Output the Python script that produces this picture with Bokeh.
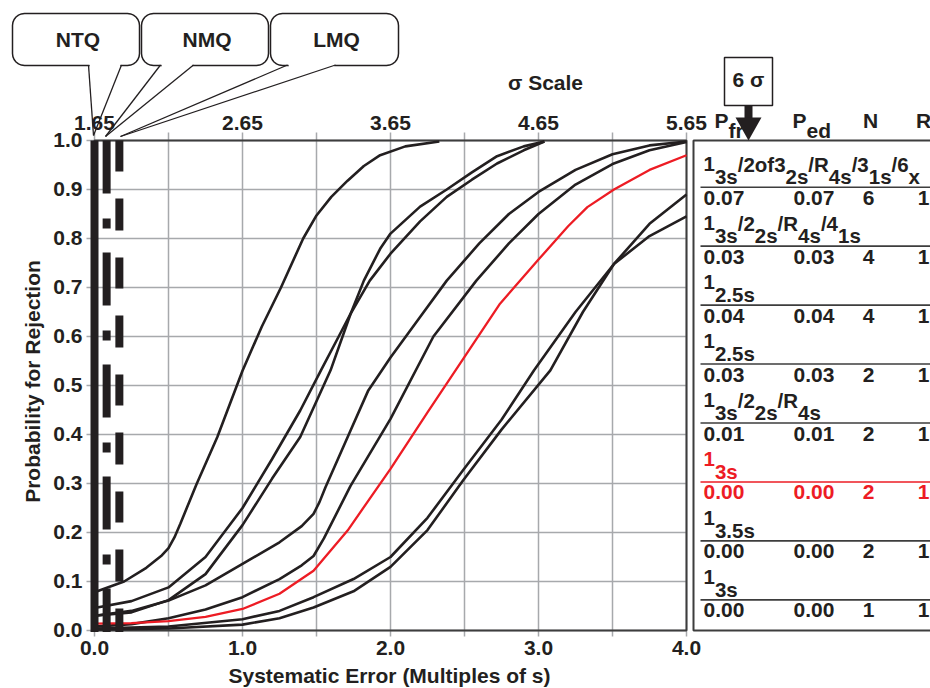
import math
from bokeh.plotting import figure
from bokeh.models import Range1d
from bokeh.core.properties import value
from bokeh.embed import file_html
from bokeh.resources import INLINE

# ---------------- data ----------------
x_ticks_major = [0.0, 1.0, 2.0, 3.0, 4.0]
x_ticks_minor = [0.5, 1.5, 2.5, 3.5]
x_tick_labels = ["0.0", "1.0", "2.0", "3.0", "4.0"]
sigma_scale_labels = ["1.65", "2.65", "3.65", "4.65", "5.65"]
y_ticks = [0.0, 0.1, 0.2, 0.3, 0.4, 0.5, 0.6, 0.7, 0.8, 0.9, 1.0]
y_tick_labels = ["0.0", "0.1", "0.2", "0.3", "0.4", "0.5", "0.6", "0.7", "0.8", "0.9", "1.0"]
x_title = "Systematic Error (Multiples of s)"
y_title = "Probability for Rejection"
top_title = "σ Scale"

# power curves: systematic error (multiples of s) -> probability for rejection
se_multi_n6 = [0.0, 0.2, 0.35, 0.45, 0.5, 0.54, 0.58, 0.69, 0.83, 1.0, 1.13, 1.26, 1.41, 1.5, 1.6, 1.71, 1.82, 1.93, 2.1, 2.33]
p_multi_n6 = [0.078, 0.10, 0.128, 0.152, 0.168, 0.19, 0.218, 0.299, 0.395, 0.53, 0.62, 0.70, 0.80, 0.847, 0.885, 0.918, 0.948, 0.97, 0.988, 0.998]

se_multi_n4 = [0.0, 0.25, 0.5, 0.75, 1.0, 1.2, 1.39, 1.595, 1.73, 1.82, 1.93, 2.0, 2.2, 2.38, 2.55, 2.72, 2.9, 3.04]
p_multi_n4 = [0.03, 0.037, 0.062, 0.115, 0.215, 0.31, 0.395, 0.531, 0.646, 0.714, 0.779, 0.81, 0.865, 0.9, 0.935, 0.968, 0.988, 0.998]

se_25s_n4 = [0.0, 0.25, 0.5, 0.75, 1.0, 1.2, 1.39, 1.53, 1.65, 1.73, 1.86, 2.0, 2.2, 2.38, 2.55, 2.72, 2.9, 3.04]
p_25s_n4 = [0.046, 0.06, 0.088, 0.15, 0.25, 0.35, 0.449, 0.531, 0.60, 0.646, 0.714, 0.769, 0.835, 0.885, 0.92, 0.953, 0.98, 0.998]

se_25s_n2 = [0.0, 0.25, 0.5, 0.75, 1.0, 1.25, 1.4, 1.48, 1.52, 1.56, 1.73, 1.85, 2.0, 2.2, 2.38, 2.6, 2.8, 3.0, 3.25, 3.5, 3.75, 4.0]
p_25s_n2 = [0.03, 0.04, 0.061, 0.092, 0.136, 0.18, 0.213, 0.238, 0.262, 0.292, 0.408, 0.49, 0.557, 0.64, 0.714, 0.79, 0.85, 0.895, 0.94, 0.972, 0.99, 0.998]

se_multi_n2 = [0.0, 0.25, 0.5, 0.75, 1.0, 1.25, 1.4, 1.48, 1.55, 1.73, 2.0, 2.29, 2.58, 2.8, 3.0, 3.25, 3.5, 3.75, 4.0]
p_multi_n2 = [0.008, 0.013, 0.025, 0.043, 0.068, 0.105, 0.133, 0.152, 0.188, 0.295, 0.432, 0.6, 0.714, 0.79, 0.85, 0.91, 0.952, 0.98, 0.997]

se_3s_n2 = [0.0, 0.25, 0.5, 0.75, 1.0, 1.25, 1.48, 1.71, 2.0, 2.25, 2.49, 2.74, 3.0, 3.2, 3.33, 3.51, 3.75, 4.0]
p_3s_n2 = [0.014, 0.015, 0.019, 0.028, 0.044, 0.075, 0.122, 0.204, 0.33, 0.445, 0.554, 0.667, 0.757, 0.825, 0.864, 0.9, 0.94, 0.97]

se_35s_n2 = [0.0, 0.5, 1.0, 1.25, 1.48, 1.75, 2.0, 2.25, 2.49, 2.75, 3.08, 3.3, 3.51, 3.75, 4.0]
p_35s_n2 = [0.002, 0.004, 0.012, 0.025, 0.047, 0.08, 0.13, 0.205, 0.306, 0.41, 0.531, 0.65, 0.748, 0.83, 0.89]

se_3s_n1 = [0.0, 0.5, 1.0, 1.25, 1.48, 1.75, 2.0, 2.25, 2.49, 2.75, 2.97, 3.25, 3.51, 3.75, 4.0]
p_3s_n1 = [0.004, 0.008, 0.023, 0.04, 0.068, 0.105, 0.15, 0.23, 0.327, 0.43, 0.531, 0.65, 0.748, 0.805, 0.845]

# table of QC procedures (braces = subscript)
rule_names = ["1{3s}/2of3{2s}/R{4s}/3{1s}/6{x}", "1{3s}/2{2s}/R{4s}/4{1s}", "1{2.5s}", "1{2.5s}",
              "1{3s}/2{2s}/R{4s}", "1{3s}", "1{3.5s}", "1{3s}"]
p_fr = ["0.07", "0.03", "0.04", "0.03", "0.01", "0.00", "0.00", "0.00"]
p_ed = ["0.07", "0.03", "0.04", "0.03", "0.01", "0.00", "0.00", "0.00"]
n_vals = ["6", "4", "4", "2", "2", "2", "2", "1"]
r_vals = ["1", "1", "1", "1", "1", "1", "1", "1"]
highlight_row = 5

curves = [
    (se_multi_n6, p_multi_n6), (se_multi_n4, p_multi_n4), (se_25s_n4, p_25s_n4),
    (se_25s_n2, p_25s_n2), (se_multi_n2, p_multi_n2), (se_3s_n2, p_3s_n2),
    (se_35s_n2, p_35s_n2), (se_3s_n1, p_3s_n1),
]

# quality requirement bars (NTQ, NMQ, LMQ)
quality_names = ["NTQ", "NMQ", "LMQ"]
quality_bar_se = [0.0, 0.082, 0.168]
sigma_marker = "6 σ"

# ---------------- style / layout ----------------
INK = "#231f20"
RED = "#ed1c24"
GRID = "#a7a9ac"
FRAME = "#3d3d3d"
FONT = "Liberation Sans"
W, H = 930, 688
X0, SX = 94.0, 148.0     # canvas px of x=0, px per unit
Y0, SY = 630.0, 490.0    # canvas px of y=0, px per unit
TS = 8.0                 # compensation of the text baseline offset (px)


def dx(px):
    return (px - X0) / SX


def dy(py):
    return (Y0 - py) / SY


p = figure(width=W, height=H, x_range=Range1d(dx(0), dx(W)), y_range=Range1d(dy(H), dy(0)),
           output_backend="svg", toolbar_location=None,
           x_axis_type=None, y_axis_type=None, min_border=0)
p.min_border_left = p.min_border_right = p.min_border_top = p.min_border_bottom = 0
p.outline_line_color = None
p.background_fill_color = "white"
p.border_fill_color = "white"
p.xgrid.visible = False
p.ygrid.visible = False


def txt(xs, ys, texts, size=21, align="left", baseline="alphabetic", color=INK, angle=0.0):
    p.text(x=xs, y=ys, text=texts, text_font=value(FONT), text_font_size=value(f"{size}px"),
           text_font_style=value("bold"), text_color=color, text_align=value(align),
           text_baseline=value(baseline), angle=angle)


def ptxt(pxs, pys, texts, **kw):
    # texts placed by layout pixels (baseline y), compensated for the renderer's offset
    txt([dx(a) for a in pxs], [dy(b - TS) for b in pys], texts, **kw)


# ---- grid with outward tick extensions ----
x_all = x_ticks_major + x_ticks_minor
p.segment(x0=x_all, y0=[dy(636)] * len(x_all), x1=x_all, y1=[dy(132)] * len(x_all),
          line_color=GRID, line_width=1.5)
p.segment(x0=[dx(86)] * len(y_ticks), y0=y_ticks, x1=[4.0] * len(y_ticks), y1=y_ticks,
          line_color=GRID, line_width=1.5)
# plot frame
p.quad(left=[0.0], right=[4.0], bottom=[0.0], top=[1.0], fill_color=None,
       line_color=FRAME, line_width=2)

# ---- tick labels & titles ----
txt(x_ticks_major, [dy(655 - TS)] * 5, x_tick_labels, align="center")
txt(x_ticks_major, [dy(130 - TS)] * 5, sigma_scale_labels, align="center")
txt([dx(82)] * len(y_ticks), [t - (7.5 - TS) / SY for t in y_ticks], y_tick_labels, align="right")
ptxt([389], [683], [x_title], align="center")
txt([dx(40 - TS)], [dy(381)], [y_title], align="center", angle=math.pi / 2)
ptxt([545], [90], [top_title], align="center")

# ---- curves ----
for i, (xs, ys) in enumerate(curves):
    if i == highlight_row:
        continue
    p.line(xs, ys, line_color=INK, line_width=2.6)
p.line(curves[highlight_row][0], curves[highlight_row][1], line_color=RED, line_width=2.3)

# ---- quality bars ----
half = 4.0 / SX
p.quad(left=[quality_bar_se[0] - half], right=[quality_bar_se[0] + half],
       bottom=[dy(631.5)], top=[1.0], fill_color=INK, line_color=None)
p.segment(x0=[quality_bar_se[1]], y0=[1.0], x1=[quality_bar_se[1]], y1=[dy(631.5)],
          line_color=INK, line_width=8, line_dash="53 25 10 24", line_cap="butt")
p.segment(x0=[quality_bar_se[2]], y0=[1.0], x1=[quality_bar_se[2]], y1=[dy(631.5)],
          line_color=INK, line_width=8, line_dash="31 27 32 27", line_cap="butt")


def patch(pts, fill="white", line=INK, lw=1.5):
    p.patch([dx(a) for a, b in pts], [dy(b) for a, b in pts], fill_color=fill,
            line_color=line, line_width=lw)


def pline(pts, color=INK, lw=1.5):
    p.line([dx(a) for a, b in pts], [dy(b) for a, b in pts], line_color=color, line_width=lw)


def rrect(x0, y0, x1, y1, r, n=6):
    pts = []
    for cx, cy, a0, a1 in [(x1 - r, y0 + r, -90, 0), (x1 - r, y1 - r, 0, 90),
                           (x0 + r, y1 - r, 90, 180), (x0 + r, y0 + r, 180, 270)]:
        for k in range(n + 1):
            a = math.radians(a0 + (a1 - a0) * k / n)
            pts.append((cx + r * math.cos(a), cy + r * math.sin(a)))
    return pts


# ---- callouts ----
boxes = [(12, 139), (141, 268), (270, 398)]
tails = [((88, 121), (93, 135)), ((160, 193), (105, 136)), ((287, 335), (120, 136))]
BOX_TOP, BOX_BOT = 13, 65
for name, (bx0, bx1) in zip(quality_names, boxes):
    patch(rrect(bx0, BOX_TOP, bx1, BOX_BOT, 12))
    ptxt([(bx0 + bx1) / 2 + 2], [47], [name], align="center")
for (t0, t1), tip in tails:
    # erase the box border where the tail joins it (only a thin strip)
    patch([(t0 + 0.8, BOX_BOT - 2), (t1 - 0.8, BOX_BOT - 2), (t1 - 1.5, BOX_BOT + 2),
           (t0 + 1.5, BOX_BOT + 2)], fill="white", line=None)
    pline([(t0, BOX_BOT - 0.5), tip], lw=1.3)
    pline([(t1, BOX_BOT - 0.5), tip], lw=1.3)

# ---- table ----
pline([(940, 140), (693, 140), (693, 630), (940, 630)], color=FRAME, lw=2)

ptxt([714, 792], [128] * 2, ["P", "P"])
ptxt([728, 806], [138] * 2, ["fr", "ed"])
ptxt([870, 923], [128] * 2, ["N", "R"], align="center")

ADV = {"0": .556, "1": .556, "2": .556, "3": .556, "4": .556, "5": .556, "6": .556,
       "7": .556, "8": .556, "9": .556, ".": .278, "/": .278, "s": .556, "x": .556,
       "o": .611, "f": .333, "R": .722}


def formula(px, base_y, spec, color, size=20.5):
    pieces, cur, sub = [], "", False
    for ch in spec:
        if ch in "{}":
            if cur:
                pieces.append((cur, sub))
            cur, sub = "", ch == "{"
        else:
            cur += ch
    if cur:
        pieces.append((cur, sub))
    x = px
    for s, is_sub in pieces:
        ptxt([x], [base_y + (12.5 if is_sub else 0)], [s], size=size, color=color)
        x += sum(ADV.get(c, .556) for c in s) * size


for i, name in enumerate(rule_names):
    ly_ = 186.7 + 58.95 * i
    col = RED if i == highlight_row else INK
    lcol = RED if i == highlight_row else FRAME
    formula(703, ly_ - 15, name, col)
    pline([(700, ly_), (940, ly_)], color=lcol, lw=1.6)
    ptxt([703, 793], [ly_ + 18.5] * 2, [p_fr[i], p_ed[i]], color=col)
    ptxt([868, 923], [ly_ + 18.5] * 2, [n_vals[i], r_vals[i]], align="center", color=col)

# 6 sigma marker with arrow
patch([(724, 57), (772, 57), (772, 105), (724, 105)])
ptxt([748], [87], [sigma_marker], align="center")
p.quad(left=[dx(744)], right=[dx(752)], top=[dy(105)], bottom=[dy(118)],
       fill_color=INK, line_color=None)
patch([(735, 117), (761, 117), (748, 140)], fill=INK, line=None)

open("out.html", "w").write(file_html(p, INLINE))
